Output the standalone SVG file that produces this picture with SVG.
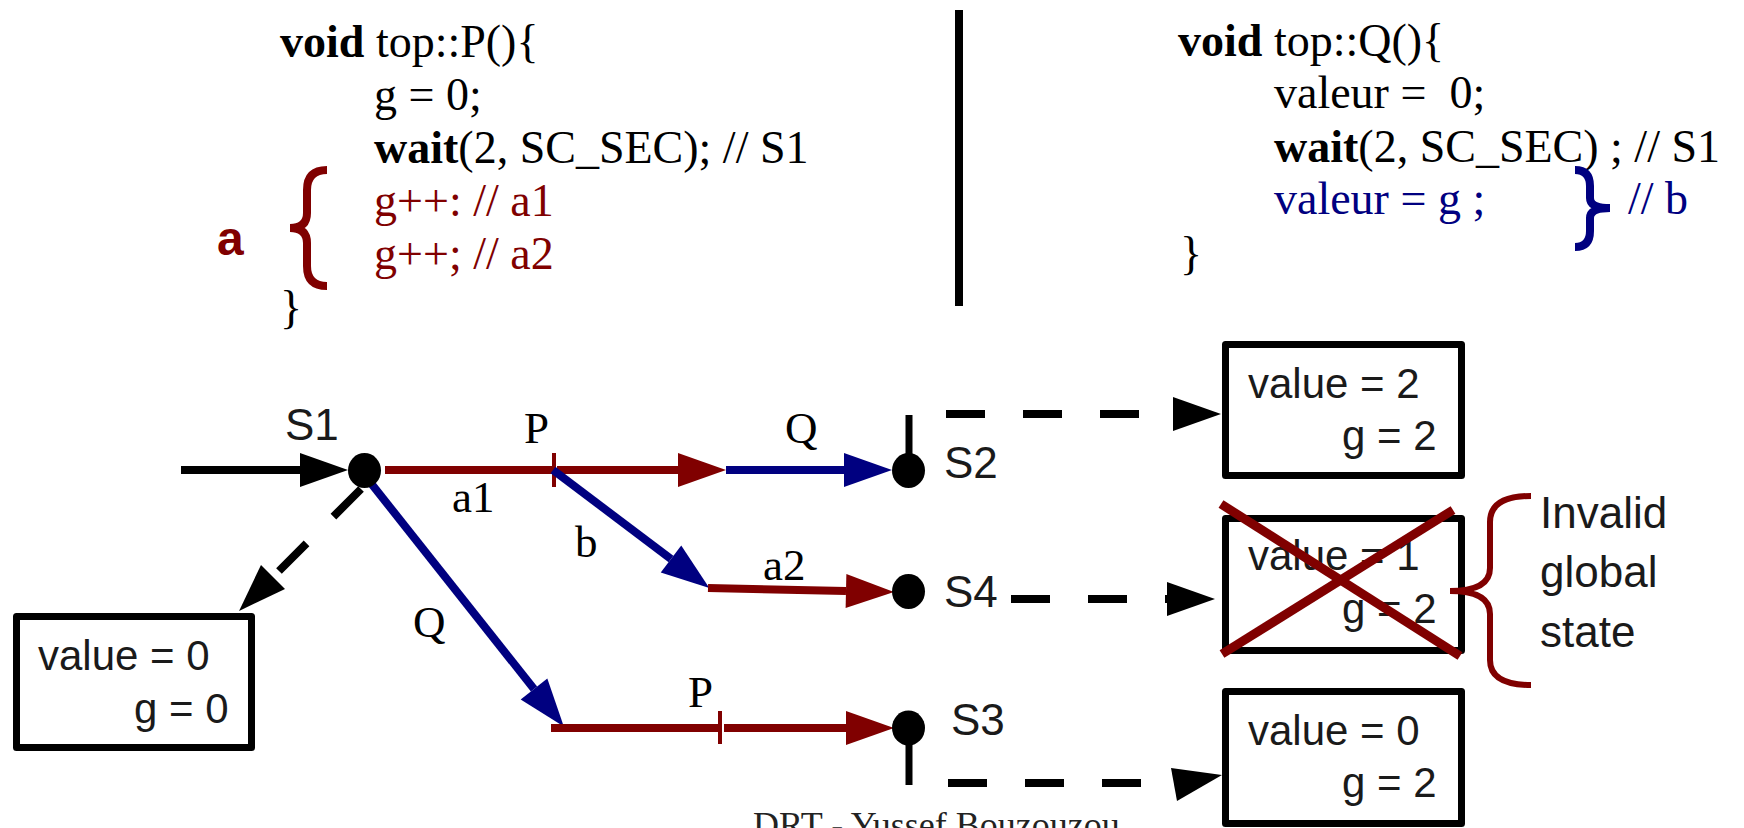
<svg xmlns="http://www.w3.org/2000/svg" width="1744" height="828" viewBox="0 0 1744 828">
  <style>
    .code { font-family: "Liberation Serif", "Times New Roman", serif; font-size: 46px; fill: #000; white-space: pre; }
    .b { font-weight: bold; }
    .red { fill: #800000; }
    .blue { fill: #000080; }
    .lbl { font-family: "Liberation Serif", "Times New Roman", serif; font-size: 45px; fill: #000; }
    .sans { font-family: "Liberation Sans", Arial, sans-serif; font-size: 44px; fill: #1a1a1a; }
    .tag { font-family: "Liberation Sans", Arial, sans-serif; font-size: 48px; font-weight: bold; fill: #800000; }
    .val { font-family: "Liberation Sans", Arial, sans-serif; font-size: 42px; fill: #1a1a1a; }
    .foot { font-family: "Liberation Serif", "Times New Roman", serif; font-size: 36px; fill: #222; }
    .box { fill: #fff; stroke: #000; stroke-width: 7; stroke-linejoin: round; }
    .dot { fill: #000; }
    .stick { stroke: #000; stroke-width: 7; }
    .k { stroke: #000; stroke-width: 8; fill: none; }
    .r { stroke: #800000; stroke-width: 8; fill: none; }
    .bl { stroke: #000080; stroke-width: 8; fill: none; }
    .tick { stroke: #800000; stroke-width: 4; }
    .dash { stroke: #000; stroke-width: 8; fill: none; stroke-dasharray: 39 38; }
  </style>
  <defs>
    <marker id="ahBlack" markerUnits="userSpaceOnUse" markerWidth="48" markerHeight="34" refX="0" refY="17" orient="auto" overflow="visible">
      <path d="M0,0 L48,17 L0,34 z" fill="#000"/>
    </marker>
    <marker id="ahRed" markerUnits="userSpaceOnUse" markerWidth="48" markerHeight="34" refX="0" refY="17" orient="auto" overflow="visible">
      <path d="M0,0 L48,17 L0,34 z" fill="#800000"/>
    </marker>
    <marker id="ahBlue" markerUnits="userSpaceOnUse" markerWidth="48" markerHeight="34" refX="0" refY="17" orient="auto" overflow="visible">
      <path d="M0,0 L48,17 L0,34 z" fill="#000080"/>
    </marker>
  </defs>

  <rect width="1744" height="828" fill="#fff"/>

  <!-- process P source -->
  <g id="code-p">
    <text class="code" x="280" y="57"><tspan class="b">void</tspan> top::P(){</text>
    <text class="code" x="374" y="110">g = 0;</text>
    <text class="code" x="374" y="163"><tspan class="b">wait</tspan>(2, SC_SEC); // S1</text>
    <text class="code red" x="374" y="216">g++: // a1</text>
    <text class="code red" x="374" y="269">g++; // a2</text>
    <text class="code" x="280" y="323">}</text>
    <path class="r" d="M327,170 Q307,170 307,190 L307,213 Q307,228 290,228 Q307,228 307,243 L307,266 Q307,286 327,286"/>
    <text class="tag" x="217" y="255">a</text>
  </g>

  <!-- separator -->
  <g id="divider">
    <rect x="955" y="10" width="8" height="296" fill="#000"/>
  </g>

  <!-- process Q source -->
  <g id="code-q">
    <text class="code" x="1178" y="56"><tspan class="b">void</tspan> top::Q(){</text>
    <text class="code" x="1274" y="108">valeur =  0;</text>
    <text class="code" x="1274" y="162"><tspan class="b">wait</tspan>(2, SC_SEC) ; // S1</text>
    <text class="code blue" x="1274" y="214">valeur = g ;</text>
    <text class="code" x="1180" y="269">}</text>
    <path class="bl" d="M1575,170 Q1590,170 1590,186 L1590,198 Q1590,208 1610,208 Q1590,208 1590,218 L1590,231 Q1590,247 1575,247"/>
    <text class="code blue" x="1628" y="214">// b</text>
  </g>

  <!-- transitions -->
  <g id="connectors">
    <line class="k" x1="181" y1="470" x2="300" y2="470" marker-end="url(#ahBlack)"/>
    <line class="r" x1="385" y1="470" x2="553" y2="470"/>
    <line class="tick" x1="554" y1="453" x2="554" y2="487"/>
    <line class="r" x1="557" y1="470" x2="678" y2="470" marker-end="url(#ahRed)"/>
    <line class="bl" x1="726" y1="470" x2="844" y2="470" marker-end="url(#ahBlue)"/>
    <line class="bl" x1="553" y1="470" x2="671" y2="559" marker-end="url(#ahBlue)"/>
    <line class="r" x1="708" y1="588" x2="846" y2="591" marker-end="url(#ahRed)"/>
    <line class="bl" x1="370" y1="482" x2="534" y2="689" marker-end="url(#ahBlue)"/>
    <line class="r" x1="551" y1="728" x2="719" y2="728"/>
    <line class="tick" x1="720" y1="711" x2="720" y2="744"/>
    <line class="r" x1="724" y1="728" x2="846" y2="728" marker-end="url(#ahRed)"/>

    <!-- state snapshots -->
    <line class="dash" x1="361" y1="489" x2="273" y2="577" stroke-dasharray="38 38" marker-end="url(#ahBlack)"/>
    <line class="dash" x1="946" y1="414" x2="1173" y2="414" marker-end="url(#ahBlack)"/>
    <line class="dash" x1="1011" y1="599" x2="1167" y2="599" stroke-dasharray="38 37.5" marker-end="url(#ahBlack)"/>
    <line class="dash" x1="948" y1="783" x2="1172" y2="783"/>
    <polygon points="1171,768 1177,801 1222,775" fill="#000"/>
  </g>

  <!-- global states -->
  <g id="s1">
    <ellipse class="dot" cx="364.5" cy="470.5" rx="16.5" ry="17.5"/>
    <text class="sans" x="285" y="440">S1</text>
  </g>
  <g id="s2">
    <line class="stick" x1="909" y1="415" x2="909" y2="470"/>
    <ellipse class="dot" cx="908.5" cy="470.5" rx="16.5" ry="17.5"/>
    <text class="sans" x="944" y="478">S2</text>
  </g>
  <g id="s4">
    <ellipse class="dot" cx="908.5" cy="591.5" rx="16.5" ry="17.5"/>
    <text class="sans" x="944" y="607">S4</text>
  </g>
  <g id="s3">
    <line class="stick" x1="909" y1="728" x2="909" y2="785"/>
    <ellipse class="dot" cx="908.5" cy="728" rx="16.5" ry="17.5"/>
    <text class="sans" x="951" y="735">S3</text>
  </g>

  <!-- edge labels -->
  <g id="labels">
    <text class="lbl" x="524" y="443">P</text>
    <text class="lbl" x="785" y="443">Q</text>
    <text class="lbl red" x="452" y="512">a1</text>
    <text class="lbl blue" x="575" y="557">b</text>
    <text class="lbl red" x="763" y="580">a2</text>
    <text class="lbl" x="413" y="637">Q</text>
    <text class="lbl" x="688" y="707">P</text>
  </g>

  <!-- variable snapshots -->
  <g id="state-s1">
    <rect class="box" x="16.5" y="616.5" width="235" height="131"/>
    <text class="val" x="38" y="670">value = 0</text>
    <text class="val" x="134" y="723">g = 0</text>
  </g>
  <g id="state-s2">
    <rect class="box" x="1225.5" y="344.5" width="236" height="131"/>
    <text class="val" x="1248" y="398">value = 2</text>
    <text class="val" x="1342" y="450">g = 2</text>
  </g>
  <g id="state-s4">
    <rect class="box" x="1225.5" y="518.5" width="236" height="132"/>
    <text class="val" x="1248" y="570">value = 1</text>
    <text class="val" x="1342" y="623">g = 2</text>
    <line x1="1221" y1="504" x2="1460" y2="656" stroke="#800000" stroke-width="9"/>
    <line x1="1222" y1="654" x2="1453" y2="510" stroke="#800000" stroke-width="9"/>
  </g>
  <g id="state-s3">
    <rect class="box" x="1225.5" y="691.5" width="236" height="132"/>
    <text class="val" x="1248" y="745">value = 0</text>
    <text class="val" x="1342" y="797">g = 2</text>
  </g>

  <!-- annotation -->
  <g id="invalid-note">
    <path d="M1531,496 Q1490,496 1490,522 L1490,568 Q1490,591 1450,591 Q1490,591 1490,614 L1490,660 Q1490,685 1531,685" fill="none" stroke="#800000" stroke-width="6"/>
    <text class="sans" x="1540" y="528" font-size="46">Invalid</text>
    <text class="sans" x="1540" y="587" font-size="46">global</text>
    <text class="sans" x="1540" y="647" font-size="46">state</text>
  </g>

  <text class="foot" x="753" y="837">DRT - Yussef Bouzouzou</text>
</svg>
